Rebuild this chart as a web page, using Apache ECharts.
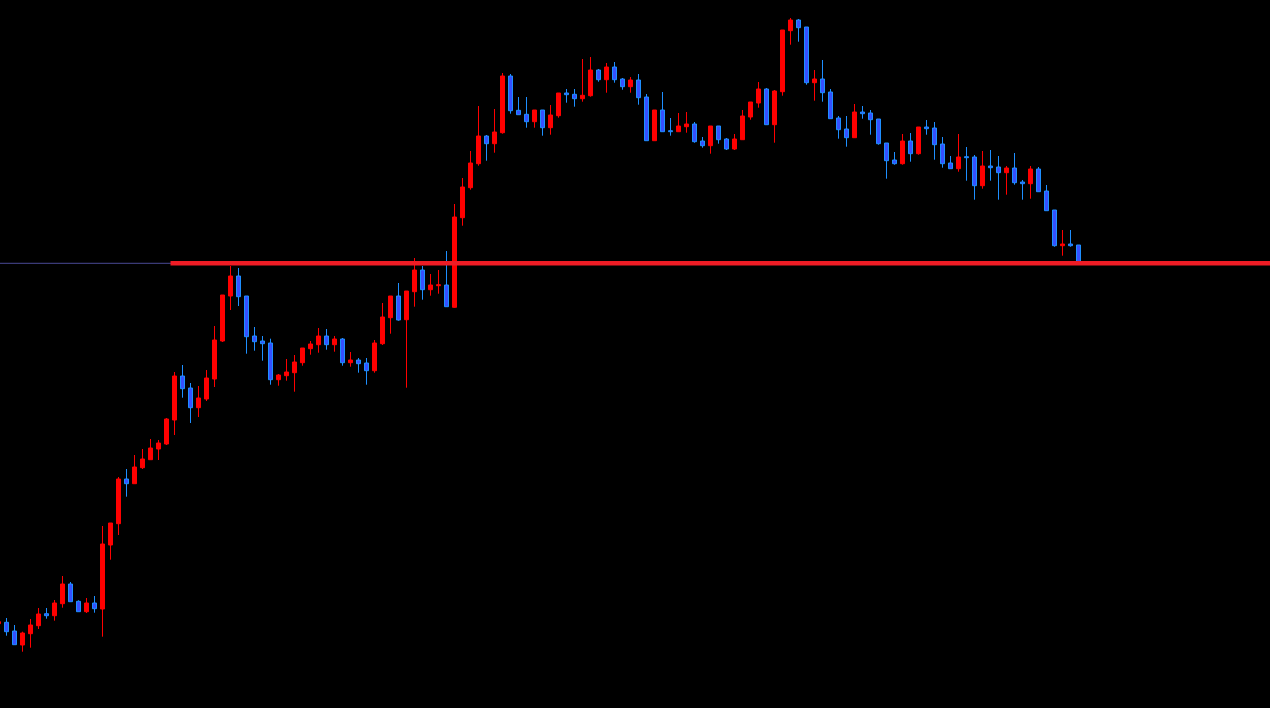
<!DOCTYPE html>
<html>
<head>
<meta charset="utf-8">
<script src="https://cdn.jsdelivr.net/npm/echarts@6/dist/echarts.min.js"></script>
<style>
html,body{margin:0;padding:0;background:#000;}
#chart{width:1270px;height:708px;}
</style>
</head>
<body>
<div id="chart"></div>
<script>
// Candle values: [open, close, low, high]
const candles = [
[84.3,86.3,84.3,86.3],
[85.7,76.3,72.3,90],
[77,63.3,63.3,83],
[63,75,56.3,76.3],
[74.3,83,60.3,89],
[82.3,94,79,100],
[94.3,92.3,89.3,100],
[92.3,105,87.3,108],
[104.3,124,100.3,132],
[124,106.3,106.3,126],
[106.7,96.3,96.3,107.7],
[96.3,105,95,110],
[105,99.3,95.3,112],
[99,164,71.3,182],
[163,185,148.3,185],
[184.3,229,173,231],
[229,224.3,211.3,239],
[224.3,241,224.3,253],
[240.3,249,239,259],
[248.3,260,248.3,269],
[259,265,248,268],
[264,289,263,290],
[288,332,273,336],
[332,319.3,310.3,343],
[320,300.3,285,325],
[300.3,310,291,322],
[309,330,307,338],
[329,368,321,382],
[367,413,366,413],
[412,432,398,442],
[432,411.3,402,440],
[412,371.3,354.3,412],
[372,366.3,357.3,381],
[367,364.3,347.3,372],
[365,328.3,323.3,369.3],
[328.3,333,322.3,334],
[332.3,336,327.3,349],
[335.3,346,316.3,353],
[345.3,360,342.3,360],
[359.3,364,353.3,367],
[363.3,372,355.3,380],
[372,363.3,358.3,379],
[363.3,369,356.3,372],
[369,345.3,342.3,370],
[345.3,348,341.3,356],
[348,344.3,335.3,350],
[345,337.3,323.3,350],
[337.3,365,335.3,368],
[364.3,391,363,405],
[390.3,412,374.3,412],
[412,388,387.3,425],
[388.3,417,320.3,417],
[416.3,438,401.3,450],
[438,418.3,408.3,442],
[418.3,423,412.3,434],
[422.3,423.3,414.3,438],
[423,401.3,401.3,457],
[400.7,491,400.3,504],
[490.3,521,482.3,530],
[520.3,545,518.3,557],
[544.3,572,542.3,602],
[572,564.3,547.3,573],
[564.3,576,555.3,599],
[575.3,632,574.3,635],
[632,597.3,594.3,634],
[597.7,593.3,593.3,611],
[593.7,586.3,580.3,611],
[586.3,598,580.3,598],
[598,580.3,572.3,598],
[580.3,593,573.3,603],
[592.3,615,590.3,615],
[615,613.3,605.3,619],
[613.7,609.3,601.3,619],
[609.3,612.7,606.3,649],
[612.3,638,611.3,651],
[638,628.3,626.3,639],
[628.3,641,615.3,645],
[641,628.3,625.3,646],
[629,621.3,618.3,630],
[621.3,628,615.3,631],
[628,610.3,603.3,634],
[611,567.3,567.3,614],
[567.3,598,567.3,598],
[598,576.3,576.3,616],
[577.3,576.3,572.3,590],
[576.3,582,576.3,595],
[581.3,584,575.3,596],
[584,566.3,565.3,586],
[567,562.3,560.3,571],
[562.3,582,554.3,582],
[582,568.3,564.3,582],
[569,559,558,570],
[559,569,558,574],
[568.3,592,568.3,598],
[591,606,588.3,606],
[605,619,600.3,626],
[619,583.3,583.3,620],
[583.3,617,565.3,618],
[616.3,678,612.3,678],
[677.3,688,663.3,690],
[688,680.3,666.3,689],
[681,625.3,623.3,681],
[625.3,629,607.3,638],
[629,615.3,606.3,648],
[616,589.3,589.3,619],
[590,578.3,569.3,592],
[579,570.3,561.3,592],
[570.3,596,570.3,604],
[596,594.3,589.3,602],
[595,588.3,573.3,598],
[589,564.3,563.3,589],
[565,547.3,529.3,565],
[548,544.3,543.3,556],
[544.3,567,543.3,574],
[567,554.3,546.3,575],
[554.3,581,553.3,581],
[581,579.3,573.3,588],
[580,563.3,548.3,586],
[564,544.3,540.3,571],
[545,539.3,539.3,552],
[539.3,551,536.3,574],
[551.3,550.3,527.3,561],
[551,522.3,508.3,553],
[522.3,542,519.3,557],
[542,540.3,527.3,558],
[541,535.3,508.3,552],
[535.3,540,513.3,542],
[540,525.3,523.3,555],
[526,524.3,508.3,528],
[524.3,539,509.3,542],
[539,516.3,516.3,541],
[517,497.3,497.3,523],
[498,462.3,461.3,498],
[462.3,464,452.3,478],
[464,462.3,461.3,478],
[463,446,446,463]
];
const levelValue = 444.7;          // horizontal level line
const levelStartBar = 22;          // red level starts at this bar boundary
const totalBars = 160;             // visible bar slots across the window
const categories = Array.from({length: totalBars}, (_, i) => String(i + 1));

const chart = echarts.init(document.getElementById('chart'), null, {renderer: 'canvas'});
chart.setOption({
  backgroundColor: '#000000',
  animation: false,
  grid: {left: -5.5, top: 0, width: totalBars * 8, height: 708, containLabel: false, outerBoundsMode: 'none'},
  xAxis: [
    {type: 'category', data: categories, boundaryGap: true, show: false},
    {type: 'value', min: 0, max: totalBars, show: false}
  ],
  yAxis: {type: 'value', min: 0, max: 708, show: false, splitLine: {show: false}},
  series: [
    {
      type: 'candlestick',
      data: candles,
      barWidth: 4,
      z: 2,
      itemStyle: {
        color: '#ff0000', borderColor: '#ff0000',
        color0: '#3550ff', borderColor0: '#1e8fff',
        borderWidth: 1
      }
    },
    {
      type: 'line', xAxisIndex: 1, symbol: 'none', silent: true, z: 3,
      data: [[0, levelValue], [totalBars, levelValue]],
      lineStyle: {color: '#4a4a96', width: 1}
    },
    {
      type: 'line', xAxisIndex: 1, symbol: 'none', silent: true, z: 4,
      data: [[levelStartBar, levelValue], [totalBars, levelValue]],
      lineStyle: {color: '#ee1c25', width: 4.5, cap: 'butt'}
    }
  ]
});
</script>
</body>
</html>
